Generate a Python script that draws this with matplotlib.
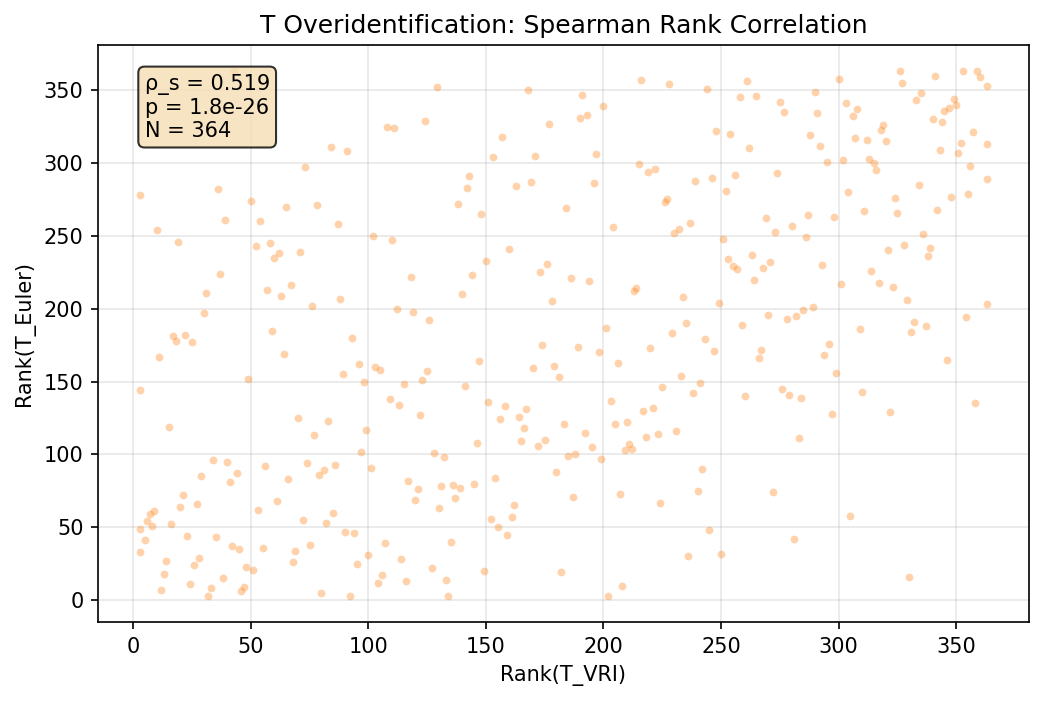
import matplotlib
matplotlib.use("Agg")
import matplotlib.pyplot as plt
import numpy as np

rank_vri = [
    43, 84, 91, 73, 3, 36, 50, 65, 78, 39, 54, 87, 10, 102, 19,
    52, 58, 62, 60, 71, 37, 31, 57, 67, 63, 88, 76, 30, 59, 17, 18, 22, 25, 93, 11,
    64, 96, 89, 103, 105, 49, 98, 3, 70, 83, 15,
    77, 99, 97, 101, 34, 40, 56, 74, 81, 79, 86, 44, 29, 41, 66, 21, 20, 27, 61, 53,
    9, 7, 6, 8, 3, 16, 72, 82, 85, 90, 94, 5, 23, 35, 3, 42, 45, 55, 75, 69,
    68, 100, 95, 14, 28, 26, 13, 48, 51, 38, 24, 12, 33, 47, 46, 32, 80, 92, 104,
    129, 168, 108, 111, 124, 177, 157, 153, 171, 143, 142, 163, 169, 138, 148, 184, 110,
    160, 150, 176, 173, 186, 118, 144, 140, 178, 112, 119, 126, 174, 189, 147, 125, 123,
    170, 179, 181, 115, 141, 109, 113, 122, 151, 158, 167, 156, 164, 183,
    166, 165, 172, 175, 146, 128, 132, 185, 188, 117, 121, 120, 131, 136, 139, 137, 130,
    145, 154, 180, 187, 162, 161, 152, 155, 159, 107, 135, 114, 127, 106, 116, 133, 134,
    149, 182,
    191, 190, 193, 200, 216, 228, 244, 261, 258, 265, 275, 277, 248, 254, 262, 197, 215,
    219, 222, 196, 239, 246, 256, 274, 252, 227, 226, 204, 237, 232, 230, 251, 269, 273,
    253, 255, 257, 263, 268, 271, 264, 194, 213, 214, 234, 249, 270, 259, 201, 235, 229,
    243, 198, 220, 247, 267, 266, 206, 233, 241, 225, 238, 260, 276, 203, 217, 221, 205, 210,
    192, 195, 199, 218, 223, 231, 211, 209, 212, 242, 240, 272, 207, 224, 245, 236, 250, 208, 202,
    290, 300, 291, 303, 308, 306, 326, 327, 341, 353, 359, 360, 363, 335, 333, 349, 350,
    347, 345, 340, 344, 319, 318, 288, 292, 307, 312, 320, 357, 352, 363, 343, 351, 295,
    302, 313, 315, 316, 356, 363, 334, 304, 324, 348, 355, 325, 342, 311, 287, 298, 280,
    286, 336,
    328, 339, 338, 321, 293, 314, 301, 317, 323, 329, 363, 278, 282, 285, 289, 332, 331,
    337, 354, 309, 296, 294, 346, 299, 279, 284, 310, 297, 322, 358,
    283, 305, 281, 330,
]

rank_euler = [
    363, 311, 308, 297, 278, 282, 274, 270, 271, 261, 260, 258, 254, 250, 246,
    243, 245, 238, 235, 239, 224, 211, 213, 216, 209, 207, 202, 197, 185, 181, 178, 182, 177, 180, 167,
    169, 162, 155, 160, 158, 152, 150, 144, 125, 123, 119,
    113, 117, 102, 91, 96, 95, 92, 94, 89, 86, 93, 87, 85, 81, 83, 72, 64, 66, 68, 62,
    61, 59, 54, 51, 49, 52, 55, 53, 60, 47, 46, 41, 44, 43, 33, 37, 35, 36, 38, 34,
    26, 31, 25, 27, 29, 24, 18, 23, 21, 15, 11, 7, 8, 9, 6, 3, 5, 3, 12,
    352, 350, 325, 324, 329, 327, 318, 304, 305, 291, 283, 284, 287, 272, 265, 269, 247,
    241, 233, 231, 225, 221, 222, 223, 210, 205, 200, 198, 192, 175, 174, 164, 157, 151,
    159, 161, 153, 148, 147, 138, 134, 127, 136, 133, 131, 124, 126, 121,
    118, 109, 106, 110, 108, 101, 98, 99, 100, 82, 76, 69, 78, 79, 77, 70, 63,
    80, 84, 88, 71, 65, 57, 56, 50, 45, 39, 40, 28, 22, 17, 13, 14, 3,
    20, 19,
    347, 331, 333, 339, 357, 354, 351, 356, 345, 346, 342, 335, 322, 320, 310, 306, 299,
    294, 296, 286, 288, 290, 292, 293, 281, 275, 273, 256, 259, 255, 252, 248, 262, 253,
    234, 229, 227, 237, 228, 232, 220, 219, 212, 214, 208, 204, 196, 189, 187, 190, 183,
    179, 170, 173, 171, 172, 166, 163, 154, 149, 146, 142, 140, 145, 137, 130, 132, 121, 122,
    115, 105, 97, 112, 114, 116, 107, 103, 104, 90, 75, 74, 73, 67, 48, 30, 32, 10, 3,
    349, 358, 334, 341, 337, 332, 363, 355, 360, 363, 363, 359, 353, 348, 343, 344, 340,
    338, 336, 330, 328, 326, 323, 319, 312, 317, 316, 315, 321, 314, 313, 309, 307, 301,
    302, 303, 300, 295, 298, 289, 285, 280, 276, 277, 279, 266, 268, 267, 264, 263, 257,
    249, 251,
    244, 242, 236, 240, 230, 226, 217, 218, 215, 206, 203, 193, 195, 199, 201, 191, 184,
    188, 194, 186, 176, 168, 165, 156, 141, 139, 143, 128, 129, 135,
    111, 58, 42, 16,
]

rho_s = 0.519
p_text = "1.8e-26"
n_obs = 364

fig = plt.figure(figsize=(1043 / 150, 702 / 150), dpi=150)
ax = fig.add_axes([98 / 1043, 1 - 622 / 702, (1029 - 98) / 1043, (622 - 45) / 702])

ax.scatter(rank_vri, rank_euler, s=14, color="#ff7f0e", alpha=0.35, linewidths=0)
ax.grid(True, alpha=0.3)
ax.set_axisbelow(True)
ax.set_xlabel("Rank(T_VRI)")
ax.set_ylabel("Rank(T_Euler)")
ax.set_title("T Overidentification: Spearman Rank Correlation")
ax.text(0.05, 0.95, f"ρ_s = {rho_s:.3f}\np = {p_text}\nN = {n_obs}",
        transform=ax.transAxes, va="top", ha="left", fontsize=10,
        bbox=dict(boxstyle="round", facecolor="wheat", alpha=0.8))

fig.savefig("out.png", dpi=150)
